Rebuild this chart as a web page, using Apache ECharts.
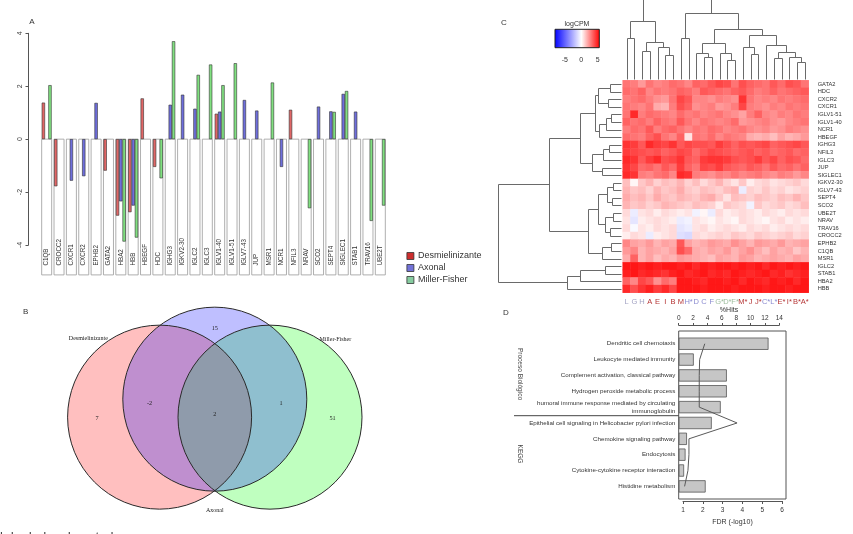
<!DOCTYPE html>
<html><head><meta charset="utf-8">
<script src="https://cdn.jsdelivr.net/npm/echarts@6/dist/echarts.min.js"></script>
<style>html,body{margin:0;padding:0;background:#fff}#c{width:853px;height:534px}</style>
</head><body><div id="c"></div>
<script>
// ================= DATA =================
// Panel A
const genes = ['C1QB','CROCC2','CXCR1','CXCR2','EPHB2','GATA2','HBA2','HBB','HBEGF','HDC','IGHG3','IGKV2-30','IGLC2','IGLC3','IGLV1-40','IGLV1-51','IGLV7-43','JUP','MSR1','NCR1','NFIL3','NRAV','SCO2','SEPT4','SIGLEC1','STAB1','TRAV16','UBE2T'];
const groups = ['Desmielinizante','Axonal','Miller-Fisher'];
const desmielinizante = [1.38,-1.78,'-','-','-',-1.19,-2.89,-2.76,1.54,-1.05,'-','-','-','-',0.96,'-','-','-','-','-',1.11,'-','-','-','-','-','-','-'];
const axonal = ['-','-',-1.57,-1.40,1.37,'-',-2.35,-2.51,'-','-',1.30,1.68,1.15,'-',1.04,'-',1.48,1.08,'-',-1.05,'-','-',1.23,1.05,1.71,1.04,'-','-'];
const millerFisher = [2.04,'-','-','-','-','-',-3.87,-3.72,'-',-1.48,3.70,'-',2.43,2.82,2.04,2.87,'-','-',2.14,'-','-',-2.61,'-',1.03,1.82,'-',-3.09,-2.51];

// Panel B
const vennSets = ['Desmielinizante','Axonal','Miller-Fisher'];
const vennCounts = [7, 15, 51, -2, 1, 2]; // D only, A only, MF only, D∩A, A∩MF, D∩A∩MF

// Panel C
const hmCols = ['L','G','H','A','E','I','B','M','H*','D','C','F','G*','D*','F*','M*','J','J*','C*','L*','E*','I*','B*','A*'];
const hmColGroup = ['C','C','C','D','D','D','D','D','A','A','A','A','M','M','M','D','D','D','A','A','D','D','D','D'];
const hmRows = ['GATA2','HDC','CXCR2','CXCR1','IGLV1-51','IGLV1-40','NCR1','HBEGF','IGHG3','NFIL3','IGLC3','JUP','SIGLEC1','IGKV2-30','IGLV7-43','SEPT4','SCO2','UBE2T','NRAV','TRAV16','CROCC2','EPHB2','C1QB','MSR1','IGLC2','STAB1','HBA2','HBB'];
const hmValues = [
[3.0,2.8,2.2,3.0,2.6,2.8,3.2,3.0,2.6,3.4,3.2,3.6,4.0,3.8,3.0,3.8,3.4,3.2,3.0,3.6,3.2,3.8,3.6,3.0],
[3.2,3.0,3.4,2.6,3.0,2.8,3.0,3.4,3.2,2.8,3.6,3.4,3.2,3.0,3.4,3.6,3.2,2.8,3.0,3.4,3.0,3.2,3.4,3.6],
[2.8,3.0,3.2,2.8,2.4,2.2,3.0,4.0,3.6,2.6,2.6,2.4,2.8,2.6,2.4,4.4,3.0,2.6,2.8,2.6,3.0,2.8,3.0,3.2],
[3.0,2.8,2.6,3.0,1.8,1.6,2.8,3.8,3.4,2.4,2.6,2.8,2.2,2.4,2.8,4.0,2.8,2.6,2.4,2.8,2.6,3.0,2.8,3.0],
[3.0,4.6,2.8,3.2,3.0,2.8,2.6,3.2,2.8,3.0,2.6,2.8,3.0,2.6,2.4,2.0,2.8,3.4,2.6,2.4,2.8,2.6,3.0,2.8],
[3.4,3.0,3.2,2.8,3.4,3.0,2.8,3.6,3.0,2.6,3.0,2.8,2.6,2.8,3.2,2.2,2.4,2.6,2.8,2.4,2.2,2.6,2.8,3.0],
[2.8,3.2,3.0,3.6,2.8,3.2,3.4,3.0,2.6,3.0,2.8,3.2,3.0,2.6,2.8,3.0,2.6,2.4,2.6,2.2,2.4,2.8,2.6,2.4],
[3.2,3.0,2.8,3.4,3.8,3.0,2.6,3.4,0.6,3.0,2.8,3.2,2.6,3.0,2.8,2.6,1.8,1.6,1.8,1.4,2.0,1.6,1.8,2.2],
[4.4,4.2,3.6,4.6,4.2,4.0,4.4,3.6,4.0,3.8,3.8,3.6,4.2,3.8,3.4,3.8,3.6,3.8,4.0,3.4,3.6,3.8,4.0,3.6],
[4.2,4.0,3.8,3.6,3.8,3.4,3.6,4.0,3.8,3.2,3.6,4.0,3.8,3.6,3.4,3.6,3.8,3.4,3.6,3.2,3.4,3.6,3.2,3.4],
[4.6,4.4,3.6,4.2,4.6,3.8,4.0,4.4,3.6,3.4,4.2,4.4,4.4,4.2,3.8,3.6,3.8,4.2,3.6,4.0,3.4,3.8,3.6,3.2],
[4.4,4.0,3.2,3.4,3.0,3.6,3.2,4.2,3.4,3.0,4.0,3.8,4.2,3.6,3.4,3.2,3.6,3.4,3.0,3.6,3.2,3.4,3.0,3.4],
[4.6,4.4,2.8,2.6,3.0,3.2,2.6,4.6,4.4,2.8,2.6,2.4,2.8,2.6,3.0,2.6,2.8,3.0,2.6,2.4,2.8,2.6,2.2,2.6],
[1.4,0.2,1.2,1.6,1.0,1.4,1.2,1.6,1.0,1.4,0.8,1.2,1.6,1.0,0.6,1.2,0.4,0.8,1.0,0.6,0.8,1.0,1.2,0.8],
[1.6,1.2,1.4,1.0,1.6,1.2,1.4,1.8,1.2,1.0,1.4,1.2,1.0,1.4,1.6,-0.6,1.0,0.8,1.2,0.8,1.0,0.6,0.8,1.0],
[1.8,1.4,1.6,1.2,1.8,1.4,1.2,1.6,1.4,1.2,1.6,1.8,1.2,0.6,1.4,1.2,1.0,1.4,1.2,1.0,1.4,1.2,1.6,1.2],
[1.6,1.2,1.4,1.0,1.2,1.6,1.4,1.2,1.0,1.4,1.2,1.0,0.4,1.2,1.0,0.8,-0.4,1.2,0.8,1.0,1.2,0.8,1.0,1.4],
[0.8,-0.6,0.6,0.8,0.4,0.8,0.6,0.4,0.6,-0.4,0.2,-0.6,0.8,0.4,0.6,0.8,0.6,0.4,0.8,0.6,0.4,0.8,0.6,0.8],
[0.6,-0.8,0.4,0.6,0.8,0.6,0.4,-0.6,-0.4,0.6,0.4,0.2,0.6,0.4,0.2,0.8,0.6,0.4,0.2,0.6,0.8,0.4,0.6,0.4],
[0.8,-0.2,0.6,0.4,0.8,0.6,0.8,-0.8,-0.6,0.6,0.8,0.4,0.6,0.8,0.6,0.4,0.8,0.6,0.8,0.4,0.6,0.8,0.6,0.8],
[0.4,0.8,0.6,-0.6,0.4,0.6,0.8,-1.0,-1.2,0.8,0.6,0.8,1.0,0.8,1.2,1.0,0.8,1.2,1.0,0.8,1.0,1.2,0.8,1.0],
[2.6,2.0,1.8,2.2,1.6,2.0,1.8,3.6,2.0,1.6,1.8,2.2,2.0,1.8,2.4,2.0,1.6,2.2,2.0,1.8,2.2,1.6,1.8,2.0],
[2.2,2.6,1.6,2.0,1.8,1.6,2.0,3.8,3.2,1.8,1.6,2.0,1.8,2.2,1.6,2.0,2.4,1.8,1.4,2.0,1.6,1.8,1.2,1.6],
[1.8,3.4,1.6,2.0,1.4,1.8,1.6,2.2,2.0,1.8,1.6,1.4,2.0,1.8,1.6,2.2,2.0,1.6,1.8,2.0,1.8,1.6,2.0,1.8],
[5.0,5.0,4.8,5.0,4.8,5.0,5.0,4.8,5.0,4.6,5.0,4.8,5.0,5.0,4.8,5.0,4.8,5.0,4.6,5.0,4.8,5.0,4.8,5.0],
[4.8,5.0,4.6,4.8,4.6,4.4,4.8,5.0,4.6,4.8,5.0,4.6,4.8,4.6,5.0,4.8,4.6,4.8,5.0,4.6,4.8,4.4,4.6,4.8],
[3.4,2.6,4.0,3.6,2.4,3.2,2.8,5.0,5.0,4.8,4.6,5.0,5.0,4.8,5.0,4.6,5.0,4.8,4.6,5.0,4.8,5.0,4.6,5.0],
[4.6,3.8,4.4,4.8,4.2,4.6,4.0,5.0,5.0,5.0,4.8,5.0,5.0,5.0,4.8,5.0,5.0,5.0,4.8,5.0,5.0,4.8,5.0,5.0]
];
// dendrograms: [mergeHeight, left, right]
const colTree = [90,
  [59.7, [42,'L','G'], [38.7, [29.7,'H','A'], [33.7,'E',[25.3,'I','B']]]],
  [67, [42,'M','H*'],
    [51,
      [37, [27.7,'D',[23.7,'C','F']], [27.7,'G*',[20.3,'D*','F*']]],
      [45.3, [33.7,'M*',[26.3,'J','J*']], [35.3,'C*',[28.7,[22,'L*','E*'],[23,'I*',[18.7,'B*','A*']]]]]
    ]
  ]
];
const rowTree = [124.3,
  [73.3,
    [42.7,
      [28, [25, [12.7,'GATA2','HDC'], [14.3,'CXCR2','CXCR1']], [24, [17, [12,'IGLV1-51','IGLV1-40'], 'NCR1'], 'HBEGF']],
      [31, [20, [14,'IGHG3','NFIL3'], 'IGLC3'], [21,'JUP','SIGLEC1']]
    ],
    [34.3,
      [25, [16, [10,'IGKV2-30','IGLV7-43'], [11,'SEPT4','SCO2']], [18, [10,'UBE2T','NRAV'], [13,'TRAV16','CROCC2']]],
      [21, [12,'EPHB2','C1QB'], 'MSR1']
    ]
  ],
  [56, [43, [18,'IGLC2','STAB1'], 'HBA2'], 'HBB']
];
const keyTicks = [-5, 0, 5];

// Panel D
const dTerms = ['Dendritic cell chemotaxis','Leukocyte mediated immunity','Complement activation, classical pathway','Hydrogen peroxide metabolic process','humoral immune response mediated by circulating\nimmunoglobulin','Epithelial cell signaling in Helicobacter pylori infection','Chemokine signaling pathway','Endocytosis','Cytokine-cytokine receptor interaction','Histidine metabolism'];
const dHits = [12.5, 2.1, 6.7, 6.7, 5.85, 4.6, 1.15, 0.95, 0.75, 3.75];
const dFDR = [2.1, 1.84, 1.82, 1.82, 1.82, 3.73, 1.3, 1.3, 1.25, 1.08];
const dGroups = ['Proceso Biológico','KEGG'];

// ================= STYLE / LAYOUT =================
const FONT = 'Liberation Sans';
const barColors = ['#e06666','#6e6edc','#80e080'];
const legendColors = ['#cc2e2e','#7272d8','#86cca0'];
const vennFill = {'Desmielinizante':'rgba(255,0,0,0.25)','Axonal':'rgba(0,0,255,0.25)','Miller-Fisher':'rgba(0,255,0,0.25)'};
const vennDrawOrder = ['Desmielinizante','Miller-Fisher','Axonal'];
const vennLayout = {
  centers: {'Desmielinizante':[-0.6,-0.2],'Axonal':[0,0],'Miller-Fisher':[0.6,-0.2]},
  radius: 1,
  countPos: [[-1.28,-0.21],[0,0.79],[1.28,-0.21],[-0.71,-0.05],[0.72,-0.05],[0,-0.17]],
  namePos: [[-1.375,0.68],[0,-1.24],[1.31,0.66]]
};
const colGroupColor = {C:'#a4a4c4', D:'#b53535', A:'#8a8ad0', M:'#9fbf9f'};
const labelBoxDepth = 5.13;

// colour ramp blue-white-red (key range -8 .. 5.5)
const KEY_MIN = -8, KEY_MAX = 5.5;
const ramp = [];
for (let k = 0; k <= 27; k++) {
  const v = KEY_MIN + (KEY_MAX - KEY_MIN) * k / 27;
  let r, g, b;
  if (v < 0) { const t = (v - KEY_MIN) / (-KEY_MIN); r = g = Math.round(255 * t); b = 255; }
  else { const t = v / KEY_MAX; r = 255; g = b = Math.round(255 * (1 - t)); }
  ramp.push('rgb(' + r + ',' + g + ',' + b + ')');
}

function dendroRender(tree, leaves, horizontal, leafBase) {
  return function (params, api) {
    if (params.dataIndex !== 0) return;
    const idx = {}; leaves.forEach((n, i) => idx[n] = i);
    const children = [];
    const hpx = h => horizontal ? api.coord([h, 0])[0] : api.coord([0, h])[1];
    const lpx = i => horizontal ? api.coord([0, i])[1] : api.coord([i, 0])[0];
    const r = v => Math.round(v) + 0.5;
    function walk(node) {
      if (typeof node === 'string') return {p: lpx(idx[node]), h: hpx(leafBase)};
      const a = walk(node[1]), b = walk(node[2]), h = hpx(node[0]);
      let pts = [[a.p, a.h], [a.p, h], [b.p, h], [b.p, b.h]].map(q => [r(q[0]), r(q[1])]);
      if (horizontal) pts = pts.map(q => [q[1], q[0]]);
      children.push({type: 'polyline', shape: {points: pts}, style: {stroke: '#6a6a6a', lineWidth: 1, fill: null}});
      return {p: (a.p + b.p) / 2, h};
    }
    walk(tree);
    return {type: 'group', children};
  };
}

const heatData = [];
hmValues.forEach((row, r) => row.forEach((v, c) => heatData.push([c, r, v])));

const chart = echarts.init(document.getElementById('c'), null, {renderer: 'canvas'});
const hiddenVal = (gi, extra) => Object.assign({type: 'value', gridIndex: gi, show: false, splitLine: {show: false}}, extra || {});

chart.setOption({
  animation: false,
  backgroundColor: '#fff',
  textStyle: {fontFamily: FONT},
  grid: [
    {left: 40.5, top: 33.3, width: 346, height: 211.7},            // 0 A
    {left: 30.8, top: 291.3, width: 368, height: 248.4},           // 1 B
    {left: 622.7, top: 80.3, width: 186, height: 212.4},           // 2 C heatmap
    {left: 622.7, top: 0, width: 186, height: 80.3},               // 3 C col dendro
    {left: 498.4, top: 80.3, width: 124.3, height: 212.4},         // 4 C row dendro
    {left: 678.7, top: 331, width: 107.3, height: 168, show: true, borderColor: '#555', borderWidth: 1, backgroundColor: 'transparent'}, // 5 D box
    {left: 678.7, top: 335.8, width: 100.6, height: 158.5},        // 6 D hits
    {left: 683, top: 335.8, width: 99, height: 158.5}              // 7 D fdr
  ],
  xAxis: [
    {type: 'category', gridIndex: 0, data: genes, show: false},
    hiddenVal(1, {min: -2, max: 2}),
    {type: 'category', gridIndex: 2, position: 'bottom',
      data: hmCols.map((c, i) => ({value: c, textStyle: {color: colGroupColor[hmColGroup[i]]}})),
      axisLine: {show: false}, axisTick: {show: false},
      axisLabel: {fontSize: 7.5, margin: 5, interval: 0}},
    {type: 'category', gridIndex: 3, data: hmCols, show: false},
    hiddenVal(4, {min: 0, max: 124.3, inverse: true}),
    hiddenVal(5, {min: 0, max: 1}),
    {type: 'value', gridIndex: 6, position: 'top', offset: 10.8, min: 0, max: 14, interval: 2,
      name: '%Hits', nameLocation: 'middle', nameGap: 11.5, nameTextStyle: {fontSize: 7, color: '#333'},
      axisLine: {show: true, lineStyle: {color: '#555', width: 1}},
      axisTick: {show: true, length: 2, lineStyle: {color: '#555'}},
      axisLabel: {fontSize: 6.5, color: '#333', margin: 3}, splitLine: {show: false}},
    {type: 'value', gridIndex: 7, position: 'bottom', offset: 6.7, min: 1, max: 6, interval: 1,
      name: 'FDR (-log10)', nameLocation: 'middle', nameGap: 18, nameTextStyle: {fontSize: 7, color: '#333'},
      axisLine: {show: true, lineStyle: {color: '#555', width: 1}},
      axisTick: {show: true, length: 3, lineStyle: {color: '#555'}},
      axisLabel: {fontSize: 6.5, color: '#333', margin: 6}, splitLine: {show: false}}
  ],
  yAxis: [
    {type: 'value', gridIndex: 0, min: -4, max: 4, interval: 2, offset: 12,
      axisLine: {show: true, lineStyle: {color: '#555', width: 1}},
      axisTick: {show: true, length: 3, lineStyle: {color: '#555'}},
      axisLabel: {rotate: 90, fontSize: 7, color: '#444', margin: 5},
      splitLine: {show: false}},
    hiddenVal(1, {min: -1.5, max: 1.2}),
    {type: 'category', gridIndex: 2, data: hmRows, inverse: true, position: 'right',
      axisLine: {show: false}, axisTick: {show: false},
      axisLabel: {fontSize: 5.7, color: '#333', margin: 9, interval: 0}},
    hiddenVal(3, {min: 0, max: 80.3}),
    {type: 'category', gridIndex: 4, data: hmRows, inverse: true, show: false},
    hiddenVal(5, {min: 0, max: 1}),
    {type: 'category', gridIndex: 6, data: dTerms, inverse: true,
      axisLine: {show: false}, axisTick: {show: false},
      axisLabel: {fontSize: 6.2, color: '#333', margin: 3.4, lineHeight: 7.4, interval: 0}},
    {type: 'category', gridIndex: 7, data: dTerms, inverse: true, show: false}
  ],
  legend: {
    orient: 'vertical', left: 401.5, top: 246.5, itemWidth: 7, itemHeight: 7, itemGap: 3,
    textStyle: {fontSize: 9, color: '#333', padding: [0, 0, 0, -1]},
    selectedMode: false,
    data: groups.map((g, i) => ({name: g, icon: 'rect', itemStyle: {color: legendColors[i], borderColor: '#333', borderWidth: 0.8}}))
  },
  visualMap: {type: 'continuous', show: false, seriesIndex: 7, min: KEY_MIN, max: KEY_MAX, inRange: {color: ramp}},
  series: [
    // 0: label boxes (A)
    {type: 'custom', xAxisIndex: 0, yAxisIndex: 0, z: 1, clip: false, silent: true,
      data: genes.map((g, i) => [i, 0]),
      renderItem(params, api) {
        const i = api.value(0);
        const top = api.coord([i, 0]);
        const bot = api.coord([i, -labelBoxDepth]);
        const w = api.size([1, 0])[0] * 0.81;
        return {type: 'group', children: [
          {type: 'rect', shape: {x: top[0] - w / 2, y: top[1], width: w, height: bot[1] - top[1]},
            style: {fill: '#fff', stroke: '#9a9a9a', lineWidth: 0.8}},
          {type: 'text', x: top[0], y: bot[1] - 9.3, rotation: Math.PI / 2,
            style: {text: genes[i], fontSize: 6.3, fill: '#333', align: 'left', verticalAlign: 'middle', fontFamily: FONT}}
        ]};
      }},
    // 1-3: bars (A)
    ...[desmielinizante, axonal, millerFisher].map((d, k) => ({
      type: 'bar', name: groups[k], xAxisIndex: 0, yAxisIndex: 0, z: 3, data: d,
      barWidth: 3.3, barGap: '0%',
      itemStyle: {color: barColors[k], borderColor: '#333', borderWidth: 0.6}
    })),
    // 4: venn fills
    {type: 'custom', xAxisIndex: 1, yAxisIndex: 1, z: 1, silent: true, clip: false,
      data: vennDrawOrder.map((s, i) => [i, 0]),
      renderItem(params, api) {
        const s = vennDrawOrder[params.dataIndex];
        const c = api.coord(vennLayout.centers[s]);
        const r = api.size([vennLayout.radius, 0])[0];
        return {type: 'circle', shape: {cx: c[0], cy: c[1], r}, style: {fill: vennFill[s], stroke: null}};
      }},
    // 5: venn outlines
    {type: 'custom', xAxisIndex: 1, yAxisIndex: 1, z: 2, silent: true, clip: false,
      data: vennSets.map((s, i) => [i, 0]),
      renderItem(params, api) {
        const s = vennSets[params.dataIndex];
        const c = api.coord(vennLayout.centers[s]);
        const r = api.size([vennLayout.radius, 0])[0];
        return {type: 'circle', shape: {cx: c[0], cy: c[1], r}, style: {fill: null, stroke: '#2a2a2a', lineWidth: 1}};
      }},
    // 6: venn texts
    {type: 'custom', xAxisIndex: 1, yAxisIndex: 1, z: 3, silent: true, clip: false,
      data: vennCounts.map((v, i) => [i, 0]),
      renderItem(params, api) {
        const i = params.dataIndex;
        const children = [];
        const p = api.coord(vennLayout.countPos[i]);
        children.push({type: 'text', x: p[0], y: p[1], style: {text: String(vennCounts[i]), fontSize: 6.2, fill: '#222', align: 'center', verticalAlign: 'middle', fontFamily: 'Liberation Serif'}});
        if (i < vennSets.length) {
          const q = api.coord(vennLayout.namePos[i]);
          children.push({type: 'text', x: q[0], y: q[1], style: {text: vennSets[i], fontSize: 6, fill: '#222', align: 'center', verticalAlign: 'middle', fontFamily: 'Liberation Serif'}});
        }
        return {type: 'group', children};
      }},
    // 7: heatmap
    {type: 'heatmap', xAxisIndex: 2, yAxisIndex: 2, data: heatData, silent: true,
      itemStyle: {borderWidth: 0}, emphasis: {disabled: true}},
    // 8: column dendrogram
    {type: 'custom', xAxisIndex: 3, yAxisIndex: 3, clip: false, silent: true, data: [[0, 0]],
      renderItem: dendroRender(colTree, hmCols, false, 1.5)},
    // 9: row dendrogram
    {type: 'custom', xAxisIndex: 4, yAxisIndex: 4, clip: false, silent: true, data: [[0, 0]],
      renderItem: dendroRender(rowTree, hmRows, true, 2)},
    // 10: D bars
    {type: 'bar', xAxisIndex: 6, yAxisIndex: 6, data: dHits, barWidth: 12.3, z: 2,
      itemStyle: {color: '#c6c6c6', borderColor: '#555', borderWidth: 0.8}},
    // 11: D line
    {type: 'line', xAxisIndex: 7, yAxisIndex: 7, z: 3, symbol: 'none',
      data: dFDR.map((v, i) => [v, i]),
      lineStyle: {color: '#5a5a5a', width: 1}}
  ],
  graphic: [
    {type: 'text', x: 32, y: 22, style: {text: 'A', fontSize: 8, fill: '#333', align: 'center', verticalAlign: 'middle'}},
    {type: 'text', x: 25.7, y: 311.7, style: {text: 'B', fontSize: 8, fill: '#333', align: 'center', verticalAlign: 'middle'}},
    {type: 'text', x: 504, y: 22.3, style: {text: 'C', fontSize: 8, fill: '#333', align: 'center', verticalAlign: 'middle'}},
    {type: 'text', x: 506, y: 312.7, style: {text: 'D', fontSize: 8, fill: '#333', align: 'center', verticalAlign: 'middle'}},
    // colour key
    {type: 'rect', shape: {x: 555, y: 29.3, width: 44.3, height: 18.4},
      style: {fill: new echarts.graphic.LinearGradient(0, 0, 1, 0, [
        {offset: 0, color: '#0000ff'}, {offset: -KEY_MIN / (KEY_MAX - KEY_MIN), color: '#ffffff'}, {offset: 1, color: '#ff0000'}]),
        stroke: '#222', lineWidth: 1}},
    {type: 'text', x: 577, y: 24, style: {text: 'logCPM', fontSize: 7, fill: '#333', align: 'center', verticalAlign: 'middle'}},
    ...keyTicks.map(t => ({type: 'text', x: 555 + (t - KEY_MIN) / (KEY_MAX - KEY_MIN) * 44.3, y: 60,
      style: {text: String(t), fontSize: 7, fill: '#333', align: 'center', verticalAlign: 'middle'}})),
    // D group labels and separator
    {type: 'text', x: 520, y: 374, rotation: -Math.PI / 2,
      style: {text: dGroups[0], fontSize: 6.5, fill: '#444', align: 'center', verticalAlign: 'middle'}},
    {type: 'text', x: 520, y: 454, rotation: -Math.PI / 2,
      style: {text: dGroups[1], fontSize: 6.5, fill: '#444', align: 'center', verticalAlign: 'middle'}},
    {type: 'line', shape: {x1: 514, y1: 415.7, x2: 678.7, y2: 415.7}, style: {stroke: '#444', lineWidth: 1}},
    // cropped caption text at bottom (only ascenders visible)
    {type: 'text', x: 0, y: 530.5, style: {text: 'l de dados de estudo', fontSize: 13, fill: '#444', align: 'left', verticalAlign: 'top'}}
  ]
});
</script>
</body></html>
